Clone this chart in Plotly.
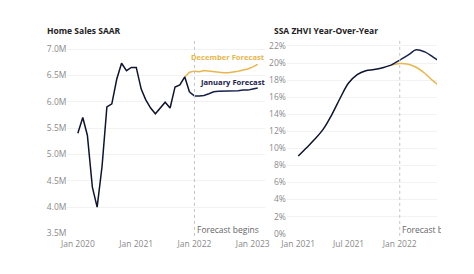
import plotly.graph_objects as go
import pandas as pd

# ---- Home Sales SAAR (millions) ----
sales_dates = pd.date_range("2020-01-01", "2021-12-01", freq="MS")
sales_vals = [5.40, 5.70, 5.36, 4.38, 4.00, 4.78, 5.90, 5.96, 6.43, 6.73, 6.59, 6.65,
              6.65, 6.24, 6.04, 5.88, 5.77, 5.88, 5.99, 5.88, 6.28, 6.32, 6.47, 6.18]

dec_fc_dates = pd.date_range("2021-11-01", "2023-02-01", freq="MS")
dec_fc_vals = [6.47, 6.56, 6.58, 6.57, 6.59, 6.58, 6.56, 6.55, 6.55, 6.55, 6.56, 6.58,
               6.60, 6.62, 6.66, 6.71]

jan_fc_dates = pd.date_range("2021-12-01", "2023-02-01", freq="MS")
jan_fc_vals = [6.18, 6.11, 6.11, 6.12, 6.15, 6.19, 6.20, 6.20, 6.21, 6.21, 6.21, 6.22,
               6.22, 6.24, 6.26]

# ---- SSA ZHVI YoY (%) ----
zhvi_dates = pd.date_range("2021-01-01", "2021-12-01", freq="MS")
zhvi_vals = [9.1, 10.1, 11.05, 12.25, 13.9, 15.9, 17.65, 18.65, 19.1, 19.23, 19.45, 19.75]

zhvi_fc_dates = pd.date_range("2021-12-01", "2022-06-01", freq="MS")
zhvi_jan_fc = [19.75, 20.35, 20.95, 21.55, 21.3, 20.7, 20.0]
zhvi_dec_fc = [19.75, 19.95, 19.85, 19.5, 18.8, 17.9, 17.1]

left_ticks = ["2020-01-01", "2021-01-01", "2022-01-01", "2023-01-01"]
left_ticktext = ["Jan 2020", "Jan 2021", "Jan 2022", "Jan 2023"]
right_ticks = ["2021-01-01", "2021-07-01", "2022-01-01", "2022-07-01"]
right_ticktext = ["Jan 2021", "Jul 2021", "Jan 2022", "Jul 2022"]
sales_yticks = [3.5, 4.0, 4.5, 5.0, 5.5, 6.0, 6.5, 7.0]
zhvi_yticks = list(range(0, 23, 2))

GOLD = "#e8b64c"
NAVY = "#16204d"
HIST = "#0e1330"
FONT = "Open Sans"
TICKC = "#8a8a8a"
GRID = "#f2f2f2"

fig = go.Figure()
fig.add_trace(go.Scatter(x=dec_fc_dates, y=dec_fc_vals, mode="lines",
                         line=dict(color=GOLD, width=1.5), xaxis="x", yaxis="y"))
fig.add_trace(go.Scatter(x=jan_fc_dates, y=jan_fc_vals, mode="lines",
                         line=dict(color=NAVY, width=1.5), xaxis="x", yaxis="y"))
fig.add_trace(go.Scatter(x=sales_dates, y=sales_vals, mode="lines",
                         line=dict(color=HIST, width=1.5), xaxis="x", yaxis="y"))

fig.add_trace(go.Scatter(x=zhvi_fc_dates, y=zhvi_dec_fc, mode="lines",
                         line=dict(color=GOLD, width=1.5, shape="spline"), xaxis="x2", yaxis="y2"))
fig.add_trace(go.Scatter(x=zhvi_fc_dates, y=zhvi_jan_fc, mode="lines",
                         line=dict(color=NAVY, width=1.5, shape="spline"), xaxis="x2", yaxis="y2"))
fig.add_trace(go.Scatter(x=zhvi_dates, y=zhvi_vals, mode="lines",
                         line=dict(color=HIST, width=1.5, shape="spline"), xaxis="x2", yaxis="y2"))

W = 441
H_PLOT = 274 - 44 - 40
axis_common = dict(showline=False, zeroline=False, ticks="",
                   tickfont=dict(family=FONT, size=8.5, color=TICKC))

fig.update_layout(
    width=W, height=274,
    margin=dict(l=0, r=0, t=44, b=40),
    paper_bgcolor="white", plot_bgcolor="white",
    showlegend=False,
    font=dict(family=FONT),
    xaxis=dict(domain=[62 / W, 265 / W], range=["2019-10-28", "2023-03-21"],
               tickvals=left_ticks, ticktext=left_ticktext, showgrid=False,
               ticklabelstandoff=3, **axis_common),
    yaxis=dict(range=[3.49, 7.095], tickvals=sales_yticks,
               ticktext=[f"{v:.1f}M" for v in sales_yticks], showgrid=True, gridcolor=GRID,
               gridwidth=1, anchor="x", **axis_common),
    xaxis2=dict(domain=[287 / W, 1.0], range=["2020-11-21", "2022-05-15"],
                tickvals=right_ticks, ticktext=right_ticktext, showgrid=False,
                ticklabelstandoff=3, anchor="y2", **axis_common),
    yaxis2=dict(range=[-0.05, 22.23], tickvals=zhvi_yticks,
                ticktext=[f"{v}%" for v in zhvi_yticks], showgrid=True, gridcolor=GRID,
                gridwidth=1, anchor="x2", **axis_common),
)

for xr in ("x", "x2"):
    fig.add_shape(type="line", xref=xr, yref="paper", x0="2022-01-01", x1="2022-01-01",
                  y0=-0.01, y1=1 + 5 / H_PLOT, line=dict(color="#c4c4c4", width=1, dash="dot"))
    fig.add_annotation(xref=xr, yref="paper", x="2022-01-01", y=0.0, xanchor="left",
                       yanchor="bottom", xshift=0, yshift=-3, showarrow=False,
                       text="Forecast begins",
                       font=dict(family=FONT, size=8.5, color="#666666"))

fig.add_annotation(xref="paper", yref="paper", x=39 / W, y=1 + 14 / H_PLOT, xanchor="left",
                   yanchor="middle", showarrow=False, text="<b>Home Sales SAAR</b>",
                   font=dict(family=FONT, size=8.5, color="#222222"))
fig.add_annotation(xref="paper", yref="paper", x=272 / W, y=1 + 14 / H_PLOT, xanchor="left",
                   yanchor="middle", showarrow=False, text="<b>SSA ZHVI Year-Over-Year</b>",
                   font=dict(family=FONT, size=8.5, color="#222222"))

fig.add_annotation(xref="paper", yref="paper", x=267 / W, y=1 - 13 / H_PLOT, xanchor="right",
                   yanchor="middle", showarrow=False, text="<b>December Forecast</b>",
                   font=dict(family=FONT, size=7.6, color=GOLD))
fig.add_annotation(xref="paper", yref="paper", x=267 / W, y=1 - 38 / H_PLOT, xanchor="right",
                   yanchor="middle", showarrow=False, text="<b>January Forecast</b>",
                   font=dict(family=FONT, size=7.6, color=NAVY))

fig.write_html("out.html")
